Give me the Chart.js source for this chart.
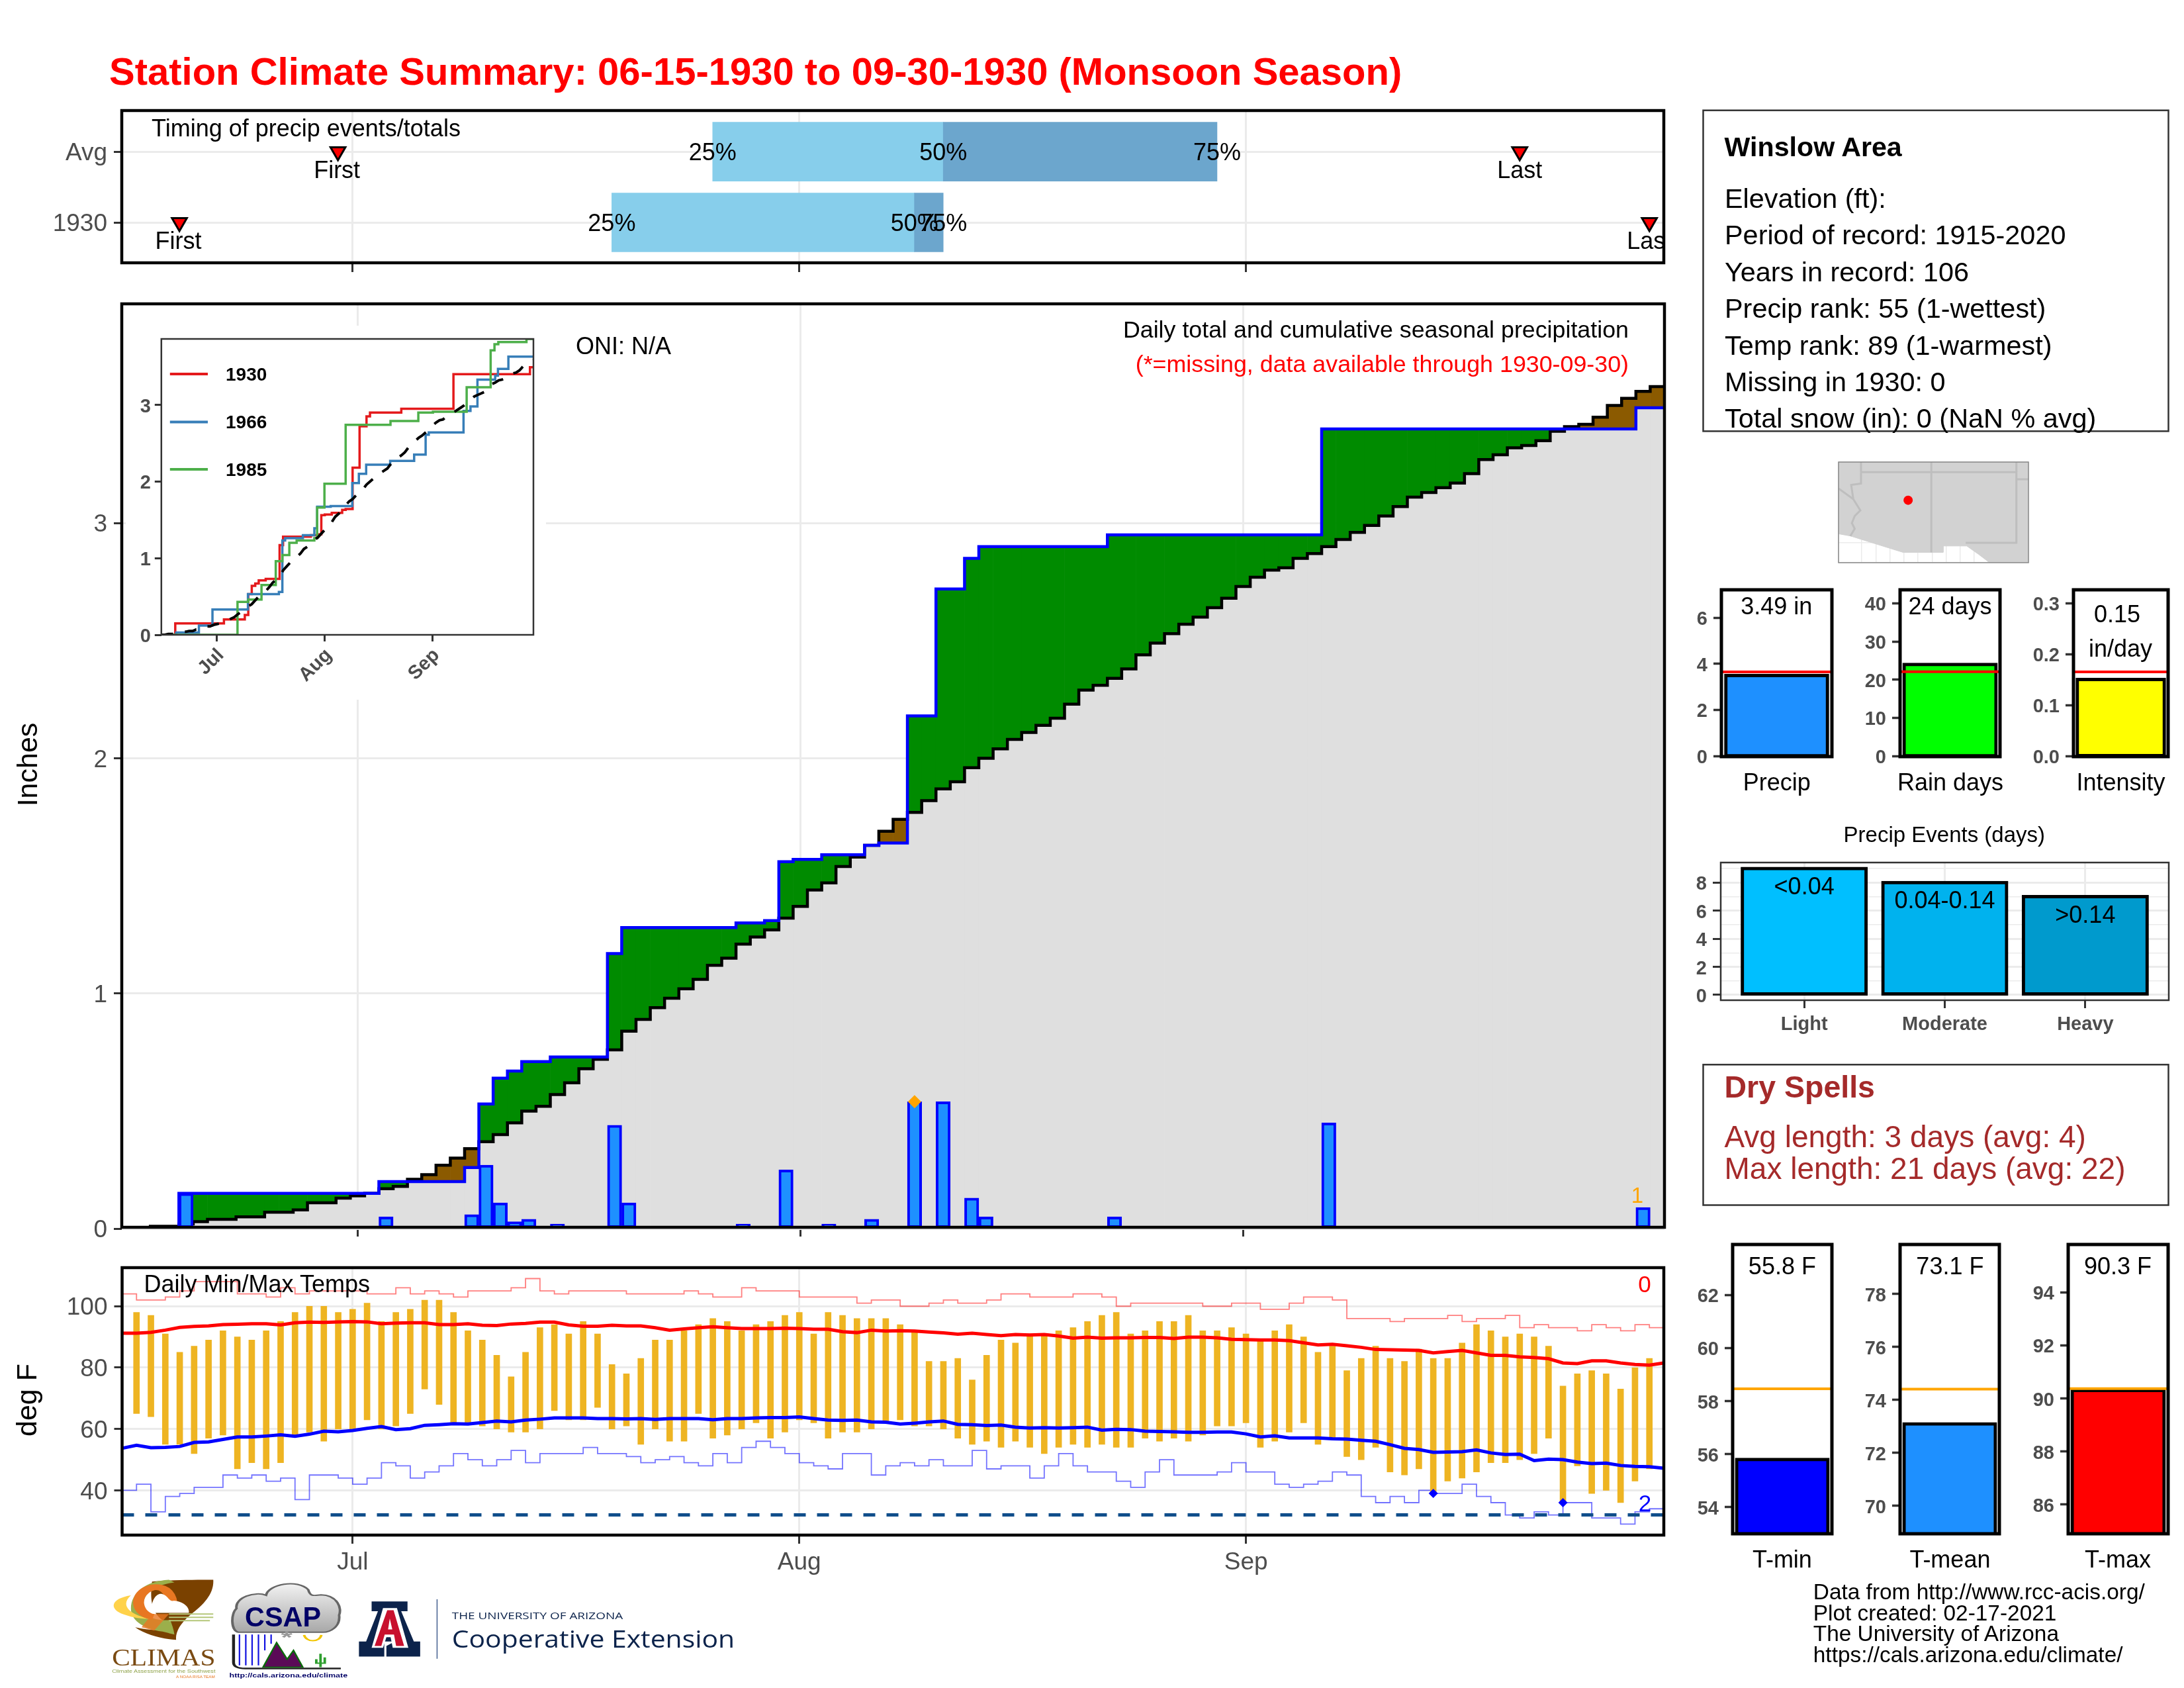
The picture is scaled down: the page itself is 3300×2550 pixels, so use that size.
<!DOCTYPE html>
<html><head><meta charset="utf-8">
<script src="https://cdn.jsdelivr.net/npm/chart.js@4"></script>
<style>html,body{margin:0;padding:0;background:#fff}#page{position:relative;width:3300px;height:2550px;overflow:hidden;background:#fff}canvas{position:absolute;display:block}svg{position:absolute;left:0;top:0;pointer-events:none}</style>
</head><body><div id="page"></div>
<script>
// ---------- DATA ----------
const monthTicks=[16,47,78];
const monthNames=['Jul','Aug','Sep'];
const days=[];for(let d=0;d<108;d++)days.push(d);

const timingCategories=['Avg','1930'];
const q25=[41,34];
const q50=[57,55];
const q75=[76,57];
const firstRain=[15,4];
const lastRain=[97,106];

const rainDays=[4,18,24,25,26,27,28,30,34,35,43,45,46,47,49,52,53,55,57,59,60,69,84,106];
const rainAmounts=[.15,.05,.06,.27,.11,.03,.04,.02,.44,.11,.02,.01,.25,.01,.02,.04,.01,.54,.54,.13,.05,.05,.45,.09];
const rainCum=[.15,.20,.26,.53,.64,.67,.71,.73,1.17,1.28,1.30,1.31,1.56,1.57,1.59,1.63,1.64,2.18,2.72,2.85,2.90,2.95,3.40,3.49];
const avgCum=[0,0,.01,.01,.02,.03,.04,.04,.05,.05,.07,.07,.08,.11,.11,.13,.14,.15,.17,.18,.21,.23,.27,.30,.34,.37,.40,.45,.50,.52,.57,.62,.68,.72,.76,.84,.89,.94,.98,1.02,1.06,1.12,1.15,1.21,1.24,1.27,1.32,1.37,1.44,1.47,1.54,1.58,1.63,1.69,1.74,1.77,1.82,1.87,1.90,1.96,2.00,2.04,2.08,2.11,2.14,2.17,2.23,2.29,2.31,2.34,2.38,2.44,2.49,2.53,2.57,2.60,2.64,2.68,2.73,2.77,2.80,2.81,2.85,2.87,2.90,2.93,2.96,2.99,3.03,3.07,3.11,3.13,3.15,3.17,3.21,3.27,3.29,3.32,3.33,3.35,3.39,3.41,3.42,3.45,3.50,3.53,3.56,3.58];

const days1966=[4.3,10.8,14.7,24.9,33.8,34.8,35.6,40.7,44,44.8,48.7,54.9,56.8,58.9,65.8,72.7,76,76.9,86.9,88.9,90.9,96,96.8,99.8];
const cum1966=[.03,.12,.33,.53,.56,1.23,1.26,1.30,1.39,1.67,1.68,1.98,2.10,2.22,2.27,2.35,2.61,2.64,2.92,2.98,3.33,3.38,3.47,3.63];
const days1985=[21.9,25,28.8,32.9,34.8,36.8,38.9,44,44.8,46.9,53,63.6,65.9,73.9,78.1,87.8,94.7,95.8,96.9,105];
const cum1985=[.43,.46,.65,.96,1.04,1.20,1.23,1.26,1.66,1.97,2.74,2.74,2.79,2.90,2.91,3.23,3.71,3.79,3.82,3.86];

const tMax=[null,98,97,91,85,87,89,92,90,89,92,95,98,100,100,98,99,101,95,98,99,102,102,98,92,89,84,77,85,93,94,91,95,91,81,78,83,89,89,92,94,96,95,92,94,95,97,98,91,98,97,96,96,96,94,92,82,82,83,76,84,89,88,91,91,92,93,95,97,98,91,92,95,95,97,92,92,93,91,89,92,94,90,85,87,79,83,87,83,82,86,83,83,88,94,92,90,91,90,87,74,78,79,78,73,80,83,null];
const tMin=[null,65,64,55,55,52,57,58,47,49,47,49,58,59,56,60,60,63,60,61,65,73,68,62,62,61,60,59,59,60,66,63,63,67,60,61,55,60,56,56,65,57,58,60,62,57,59,63,62,57,59,59,60,62,63,61,61,60,57,55,56,54,56,54,52,54,55,54,55,54,54,57,56,57,56,58,61,61,62,54,56,59,62,55,57,51,50,54,46,45,47,39,43,44,46,49,49,50,52,57,36,48,39,40,36,43,47,null];
const avgMax=[91.2,91.2,91.5,92.2,93.1,93.4,93.6,94.0,94.1,94.3,94.3,93.9,94.6,94.8,94.7,94.9,95.0,94.9,94.3,94.5,94.6,94.6,94.0,94.0,94.3,93.8,93.7,94.2,94.4,94.8,94.8,93.9,93.5,93.5,93.8,93.6,93.6,93.0,92.2,92.6,93.0,93.3,93.0,92.7,92.7,92.7,92.8,92.7,92.5,92.5,91.7,91.4,92.2,91.9,92.0,91.9,91.6,91.3,90.9,91.2,90.8,90.4,90.8,90.6,90.8,90.3,89.6,89.9,89.6,89.7,89.7,89.8,89.8,89.5,89.9,89.9,89.7,89.2,89.1,89.0,89.0,88.8,88.1,87.4,87.6,87.1,86.6,85.9,85.8,85.7,85.6,84.8,85.2,85.6,84.8,84.0,84.0,83.5,83.3,82.9,81.5,81.3,82.2,82.2,81.5,81.0,80.8,81.5];
const avgMin=[53.7,54.7,53.9,54.0,54.3,55.6,55.8,56.6,57.4,57.4,57.7,58.1,57.6,58.3,59.3,59.1,59.5,60.2,60.8,59.8,60.1,61.2,61.4,61.7,61.6,62.1,62.6,62.3,62.9,63.2,63.6,63.6,63.6,63.4,63.4,63.3,63.4,63.1,63.4,63.4,63.4,63.0,63.4,63.4,63.6,63.7,63.7,63.9,63.4,62.9,62.8,62.9,62.3,62.2,61.6,61.9,62.3,62.6,61.5,61.4,61.1,61.3,60.6,60.3,60.4,60.3,60.4,60.6,59.6,59.9,59.8,59.3,59.2,59.1,58.9,58.9,59.0,59.0,58.4,57.4,57.8,57.1,57.1,57.1,56.8,56.7,56.3,56.0,54.9,53.7,53.3,52.4,52.5,52.6,53.2,52.2,51.7,51.8,49.7,50.2,50.0,49.2,48.7,48.9,48.1,47.8,47.7,47.2];
const recHigh=[104,102,102,103,105,108,108,108,104,104,103,106,104,105,105,105,105,104,104,106,104,105,104,103,105,105,105,106,109,105,104,105,105,105,105,104,104,104,104,105,104,103,103,106,105,105,105,103,103,103,103,101,102,102,100,100,101,102,101,101,102,104,104,103,103,103,104,104,103,100,101,101,101,101,101,100,100,101,101,99,99,101,103,103,102,96,96,96,95,96,96,96,97,95,96,96,97,93,94,93,93,92,94,93,92,94,93,93];
const recLow=[40,42,33,38,39,41,41,45,44,45,43,44,37,45,45,44,42,44,49,48,44,46,48,52,50,48,50,53,49,52,52,52,54,52,52,51,49,50,51,49,48,52,49,54,56,54,52,49,48,47,52,52,45,48,49,48,50,48,48,53,47,48,48,44,48,52,48,46,46,43,41,46,50,45,45,45,46,49,46,46,42,41,42,43,46,45,38,36,38,36,40,39,39,42,38,36,32,31,33,32,36,36,31,31,29,33,34,34];
const recLowDays=[91,100];
const recLowVals=[39,36];
const freezeLine=32;

const precipTotal=3.49, precipAvg=3.65;
const rainDayCount=24, rainDayAvg=22.1;
const intensity=0.15, intensityAvg=0.165;
const eventLabels=['Light','Moderate','Heavy'];
const eventBins=['<0.04','0.04-0.14','>0.14'];
const eventCounts=[9,8,7];
const tMinMean=55.8, tMeanMean=73.1, tMaxMean=90.3;
const tMinAvg=58.46, tMeanAvg=74.41, tMaxAvg=90.37;

const regionLon=[-115.65,-102.14,-102.14,-104.9,-105.7,-106.53,-108.21,-108.21,-111.07,-114.81,-115.65];
const regionLat=[37.72,37.72,30.6,30.6,31.2,31.78,31.78,31.33,31.33,32.49,32.64];
const borderLines=[
 {lon:[-109.05,-109.05],lat:[37.72,31.33]},
 {lon:[-114.05,-103,-103,-106.6],lat:[37,37,32,32]},
 {lon:[-114.05,-114.05],lat:[37.72,37]},
 {lon:[-103,-102.14],lat:[36.5,36.5]},
 {lon:[-103,-103],lat:[37.72,37]},
 {lon:[-114.05,-114.05,-114.75,-114.6,-114.1,-114.5,-114.7,-114.5,-114.81],lat:[37,36.2,36.1,35.1,34.3,33.9,33.4,33,32.49]},
 {lon:[-115.65,-114.6],lat:[35.85,35.1]}
];
const stationLon=-110.7, stationLat=35.02;

// ---------- HELPERS ----------
const FONT='"Liberation Sans"';
Chart.defaults.font.family='Liberation Sans';
const GRID='#EBEBEB',TICK='#333333',LABEL='#4D4D4D';
const page=document.getElementById('page');

Chart.register({id:'frame',afterDraw(c,a,o){if(!o||!o.width)return;const A=c.chartArea,x=c.ctx;x.save();x.strokeStyle=o.color||'#000';x.lineWidth=o.width;x.strokeRect(A.left,A.top,A.right-A.left,A.bottom-A.top);x.restore();}});
Chart.register({id:'notes',afterDatasetsDraw(c,a,o){if(!o||!o.items)return;const A=c.chartArea,x=c.ctx;x.save();x.beginPath();x.rect(A.left,A.top,A.right-A.left,A.bottom-A.top);x.clip();
 o.items.forEach(n=>{const sx=c.scales[n.xAxis||'x'],sy=c.scales[n.yAxis||'y'];x.font=`${n.weight||'normal'} ${n.size||36}px ${FONT}`;x.fillStyle=n.color||'#000';x.textAlign=n.align||'center';x.textBaseline='alphabetic';x.fillText(n.text,sx.getPixelForValue(n.x)+(n.dx||0),sy.getPixelForValue(n.y)+(n.dy||0));});x.restore();}});

function makeChart(frame,pad,cfg){
 const cv=document.createElement('canvas');
 const W=Math.round(frame.r-frame.l+pad.left+pad.right),H=Math.round(frame.b-frame.t+pad.top+pad.bottom);
 cv.width=W;cv.height=H;cv.style.width=W+'px';cv.style.height=H+'px';cv.style.left=(frame.l-pad.left)+'px';cv.style.top=(frame.t-pad.top)+'px';
 if(cfg.whiteBg)cv.style.background='#fff';
 page.appendChild(cv);
 const o=cfg.options=cfg.options||{};
 o.responsive=false;o.animation=false;o.devicePixelRatio=1;
 o.layout={autoPadding:false,padding:{top:pad.top,right:pad.right,left:0,bottom:0}};
 const noPad=s=>{s.paddingLeft=s.paddingRight=s.paddingTop=s.paddingBottom=0;};
 o.scales.x.afterFit=s=>{s.height=pad.bottom;noPad(s);};
 o.scales.y.afterFit=s=>{s.width=pad.left;noPad(s);};
 o.plugins=Object.assign({legend:{display:false},tooltip:{enabled:false}},o.plugins||{});
 return new Chart(cv.getContext('2d'),cfg);
}
const tickList=l=>s=>{s.ticks=l.map(v=>({value:v}));};
function stepPts(ds,vs,start,end){const p=[{x:start,y:0}];ds.forEach((d,i)=>p.push({x:d,y:vs[i]}));p.push({x:end,y:vs[vs.length-1]});return p;}
function fullDaily(ds,vs){return days.map(d=>{const k=ds.indexOf(d);return k>=0?vs[k]:null;});}
function holdDaily(ds,vs){let cur=0;return days.map(d=>{const k=ds.indexOf(d);if(k>=0)cur=vs[k];return cur;});}
const baseGrid={color:GRID,lineWidth:3,tickColor:TICK,tickWidth:3,tickLength:12};
const tickFont={size:37,family:'Liberation Sans'};

// ---------- TIMING PANEL ----------
const timingNotes=[];
timingCategories.forEach((c,i)=>{
 timingNotes.push({x:q25[i],y:i+1,dy:13,text:'25%'},{x:q50[i],y:i+1,dy:13,text:'50%'},{x:q75[i],y:i+1,dy:13,text:'75%'},
  {x:firstRain[i],y:i+1,dy:40,dx:-1.5,text:'First'},{x:lastRain[i],y:i+1,dy:40,text:'Last'});
});
makeChart({l:184,t:167,r:2514,b:397},{left:184,top:6,right:6,bottom:20},{
 type:'bar',
 data:{datasets:[
  {type:'scatter',order:1,xAxisID:'x',yAxisID:'y',data:timingCategories.flatMap((c,i)=>[{x:firstRain[i],y:i+1},{x:lastRain[i],y:i+1}]),pointStyle:'triangle',rotation:180,pointRadius:13,backgroundColor:'#FF0000',borderColor:'#000',borderWidth:3},
  {indexAxis:'y',order:2,grouped:false,barThickness:89,backgroundColor:'#6CA6CD',data:timingCategories.map((c,i)=>({x:[q50[i],q75[i]],y:i+1}))},
  {indexAxis:'y',order:3,grouped:false,barThickness:89,backgroundColor:'#87CEEB',data:timingCategories.map((c,i)=>({x:[q25[i],q50[i]],y:i+1}))}
 ]},
 options:{plugins:{frame:{width:4.5},notes:{items:timingNotes}},scales:{
  x:{type:'linear',offset:false,min:0,max:107,afterBuildTicks:tickList(monthTicks),grid:Object.assign({},baseGrid,{offset:false,tickLength:14}),border:{display:false},ticks:{callback:()=>'',maxRotation:0}},
  y:{type:'linear',offset:false,reverse:true,min:.42,max:2.57,afterBuildTicks:tickList([1,2]),grid:Object.assign({},baseGrid,{offset:false}),border:{display:false},ticks:{padding:10,labelOffset:3,font:tickFont,color:LABEL,callback:v=>timingCategories[v-1]}}
 }}
});

// ---------- MAIN PRECIP PANEL ----------
const cumDaily=holdDaily(rainDays,rainCum);
const dailyRain=fullDaily(rainDays,rainAmounts);
makeChart({l:184,t:459,r:2515,b:1853.5},{left:184,top:6,right:6,bottom:20},{
 type:'bar',
 data:{labels:days,datasets:[
  {type:'scatter',order:0,xAxisID:'xl',data:[{x:55,y:.54}],pointStyle:'rectRot',pointRadius:10,backgroundColor:'#FFA500',borderWidth:0},
  {order:1,grouped:false,barPercentage:1,categoryPercentage:1,data:dailyRain,backgroundColor:'#1E90FF',borderColor:'#0000FF',borderWidth:4,borderSkipped:false},
  {type:'line',order:2,xAxisID:'xl',data:stepPts(rainDays.map(d=>d-.5),rainCum,-.5,107.5),stepped:'before',borderColor:'#0000FF',borderWidth:4.5,pointRadius:0,fill:false},
  {type:'line',order:3,xAxisID:'xl',data:stepPts(days.map(d=>d-.5),avgCum,-.5,107.5),stepped:'before',borderColor:'#000',borderWidth:4.5,pointRadius:0,fill:false},
  {order:4,grouped:false,barPercentage:1,categoryPercentage:1,data:days.map(d=>[Math.min(cumDaily[d],avgCum[d]),Math.max(cumDaily[d],avgCum[d])]),backgroundColor:days.map(d=>cumDaily[d]>=avgCum[d]?'#008B00':'#8B5A00')},
  {order:5,grouped:false,barPercentage:1,categoryPercentage:1,data:days.map(d=>[0,Math.min(cumDaily[d],avgCum[d])]),backgroundColor:'#DFDFDF'}
 ]},
 options:{plugins:{frame:{width:4.5}},scales:{
  x:{type:'category',offset:true,afterBuildTicks:tickList(monthTicks),grid:Object.assign({},baseGrid,{offset:false,tickLength:14}),border:{display:false},ticks:{autoSkip:false,maxRotation:0,callback:()=>''}},
  xl:{type:'linear',offset:false,display:false,min:-.5,max:107.5},
  y:{type:'linear',min:.006,max:3.932,afterBuildTicks:tickList([0,1,2,3]),grid:baseGrid,border:{display:false},ticks:{padding:10,labelOffset:3,font:tickFont,color:LABEL}}
 }}
});

// ---------- INSET ----------
makeChart({l:243.8,t:512,r:806,b:959},{left:53.8,top:20,right:19,bottom:98},{
 whiteBg:true,type:'line',
 data:{datasets:[
  {data:days.map(d=>({x:d,y:avgCum[d]})),borderColor:'#000',borderWidth:4,borderDash:[18,18],pointRadius:0,order:1},
  {data:stepPts(rainDays,rainCum,0,107),stepped:'before',borderColor:'#E41A1C',borderWidth:3.5,pointRadius:0,order:4},
  {data:stepPts(days1966,cum1966,0,107),stepped:'before',borderColor:'#377EB8',borderWidth:3.5,pointRadius:0,order:3},
  {data:stepPts(days1985,cum1985,0,107),stepped:'before',borderColor:'#4DAF4A',borderWidth:3.5,pointRadius:0,order:2}
 ]},
 options:{plugins:{frame:{width:2.5,color:'#333'}},scales:{
  x:{type:'linear',min:0,max:107,afterBuildTicks:tickList(monthTicks),grid:{drawOnChartArea:false,tickColor:TICK,tickWidth:3,tickLength:10},border:{display:false},ticks:{minRotation:45,maxRotation:45,padding:4,labelOffset:6,font:{size:29,weight:'bold'},color:LABEL,callback:v=>monthNames[monthTicks.indexOf(v)]}},
  y:{type:'linear',min:0,max:3.86,afterBuildTicks:tickList([0,1,2,3]),grid:{drawOnChartArea:false,tickColor:TICK,tickWidth:3,tickLength:10},border:{display:false},ticks:{padding:6,labelOffset:3,font:{size:29,weight:'bold'},color:LABEL}}
 }}
});

// ---------- TEMPERATURE PANEL ----------
makeChart({l:184.5,t:1915,r:2514,b:2319.3},{left:184.5,top:6,right:6,bottom:70},{
 type:'bar',
 data:{labels:days,datasets:[
  {type:'line',order:0,showLine:false,data:recLowDays.map((d,i)=>({x:d,y:recLowVals[i]})),pointStyle:'rectRot',pointRadius:7,backgroundColor:'#0000FF',borderWidth:0},
  {type:'line',order:1,data:avgMax,borderColor:'#FF0000',borderWidth:5,pointRadius:0,tension:0},
  {type:'line',order:2,data:avgMin,borderColor:'#0000FF',borderWidth:5,pointRadius:0,tension:0},
  {order:3,grouped:false,barThickness:9,data:days.map(d=>tMax[d]===null?null:[tMin[d],tMax[d]]),backgroundColor:'#EEB422'},
  {type:'line',order:4,data:days.map(()=>freezeLine),borderColor:'#104E8B',borderWidth:5,borderDash:[18,17],pointRadius:0},
  {type:'line',order:5,data:recHigh,stepped:'before',borderColor:'rgba(255,0,0,.5)',borderWidth:1.8,pointRadius:0},
  {type:'line',order:6,data:recLow,stepped:'before',borderColor:'rgba(0,0,255,.55)',borderWidth:1.8,pointRadius:0}
 ]},
 options:{plugins:{frame:{width:4.5}},scales:{
  x:{type:'category',offset:false,afterBuildTicks:tickList(monthTicks),grid:Object.assign({},baseGrid,{offset:false,tickLength:13}),border:{display:false},ticks:{autoSkip:false,maxRotation:0,padding:6.5,font:tickFont,color:LABEL,callback:v=>monthNames[monthTicks.indexOf(v)]}},
  y:{type:'linear',min:25.43,max:112.56,afterBuildTicks:tickList([40,60,80,100]),grid:baseGrid,border:{display:false},ticks:{padding:10,labelOffset:3,font:tickFont,color:LABEL}}
 }}
});

// ---------- SMALL BAR PANELS ----------
function smallBar(frame,val,ref,refColor,color,ymin,ymax,ticks,fmt){
 return makeChart(frame,{left:110,top:5,right:5,bottom:28},{
  type:'bar',
  data:{labels:['v'],datasets:[
   {type:'line',order:1,xAxisID:'xl',data:[{x:0,y:ref},{x:1,y:ref}],borderColor:refColor,borderWidth:4,pointRadius:0},
   {order:2,grouped:false,barPercentage:.92,categoryPercentage:1,inflateAmount:2.5,data:[val],backgroundColor:color,borderColor:'#000',borderWidth:5,borderSkipped:false}
  ]},
  options:{plugins:{frame:{width:5}},scales:{
   x:{type:'category',offset:true,grid:{display:false},border:{display:false},ticks:{display:false}},
   xl:{type:'linear',offset:false,display:false,min:0,max:1},
   y:{type:'linear',min:ymin,max:ymax,afterBuildTicks:tickList(ticks),grid:{drawOnChartArea:false,tickColor:TICK,tickWidth:3.5,tickLength:12},border:{display:false},ticks:{padding:9,labelOffset:3,font:{size:29,weight:'bold'},color:LABEL,callback:fmt}}
  }}
 });
}
smallBar({l:2600.5,t:890.6,r:2767.9,b:1143},precipTotal,precipAvg,'#FF0000','#1E90FF',-.025,7.21,[0,2,4,6],v=>v);
smallBar({l:2871,t:890.6,r:3022,b:1143},rainDayCount,rainDayAvg,'#FF0000','#00FF00',-.15,43.55,[0,10,20,30,40],v=>v);
smallBar({l:3133,t:890.6,r:3275.5,b:1143},intensity,intensityAvg,'#FF0000','#FFFF00',-.0012,.326,[0,.1,.2,.3],v=>v.toFixed(1));
smallBar({l:2617.9,t:1880.4,r:2767.9,b:2317.4},tMinMean,tMinAvg,'#FFA500','#0000FF',53,63.9,[54,56,58,60,62],v=>v);
smallBar({l:2871.4,t:1880.4,r:3021.4,b:2317.4},tMeanMean,tMeanAvg,'#FFA500','#1E90FF',68.95,79.87,[70,72,74,76,78],v=>v);
smallBar({l:3125,t:1880.4,r:3275.5,b:2317.4},tMaxMean,tMaxAvg,'#FFA500','#FF0000',84.9,95.8,[86,88,90,92,94],v=>v);

// ---------- EVENTS ----------
makeChart({l:2600,t:1302.8,r:3276.5,b:1510.9},{left:110,top:4,right:4,bottom:70},{
 type:'bar',
 data:{datasets:[{data:eventCounts.map((v,i)=>({x:i+1,y:v})),barThickness:187,inflateAmount:2.5,backgroundColor:['#00BFFF','#00B2EE','#009ACD'],borderColor:'#000',borderWidth:5,borderSkipped:false}]},
 options:{plugins:{frame:{width:2.5,color:'#333'},notes:{items:eventBins.map((t,i)=>({x:i+1,y:eventCounts[i],dy:39,text:t,size:36}))}},scales:{
  x:{type:'linear',offset:false,min:.406,max:3.594,afterBuildTicks:tickList([1,2,3]),grid:{offset:false,color:GRID,lineWidth:3,tickColor:TICK,tickWidth:3,tickLength:12},border:{display:false},ticks:{padding:8,font:{size:29,weight:'bold'},color:LABEL,callback:v=>eventLabels[v-1]}},
  y:{type:'linear',min:-.38,max:9.43,afterBuildTicks:tickList([0,1,2,3,4,5,6,7,8,9]),grid:{color:GRID,lineWidth:c=>c.tick&&c.tick.value%2?1.5:3,tickColor:c=>c.tick&&c.tick.value%2?'rgba(0,0,0,0)':TICK,tickWidth:3,tickLength:12},border:{display:false},ticks:{padding:9,labelOffset:3,autoSkip:false,font:{size:29,weight:'bold'},color:LABEL,callback:v=>v%2?'':v}}
 }}
});

// ---------- MAP ----------
const mapDatasets=[{data:[{x:stationLon,y:stationLat}],type:'scatter',order:0,pointRadius:7,backgroundColor:'#FF0000',borderWidth:0}];
borderLines.forEach(b=>mapDatasets.push({type:'line',order:1,data:b.lon.map((x,i)=>({x,y:b.lat[i]})),borderColor:'#BEBEBE',borderWidth:3,pointRadius:0,fill:false}));
mapDatasets.push({type:'line',order:2,data:regionLon.map((x,i)=>({x,y:regionLat[i]})),borderColor:'#D2D2D2',borderWidth:1,backgroundColor:'#D2D2D2',fill:'shape',pointRadius:0});
makeChart({l:2778,t:697.7,r:3065.3,b:850},{left:2,top:2,right:2,bottom:2},{
 type:'scatter',data:{datasets:mapDatasets},
 options:{plugins:{frame:{width:1.5,color:'#888'}},scales:{
  x:{type:'linear',min:-115.65,max:-102.14,ticks:{display:false,stepSize:1},grid:{color:'#EBEBEB',lineWidth:1.5,drawTicks:false},border:{display:false}},
  y:{type:'linear',min:30.6,max:37.72,ticks:{display:false,stepSize:1},grid:{color:'#EBEBEB',lineWidth:1.5,drawTicks:false},border:{display:false}}
 }}
});

// ---------- TEXT / SVG OVERLAY ----------
const NS='http://www.w3.org/2000/svg';
const svg=document.createElementNS(NS,'svg');svg.setAttribute('width',3300);svg.setAttribute('height',2550);page.appendChild(svg);
function el(tag,a,parent,txt){const e=document.createElementNS(NS,tag);for(const k in a)e.setAttribute(k,a[k]);if(txt!==undefined)e.textContent=txt;(parent||svg).appendChild(e);return e;}
function T(x,y,t,o={}){const a={x,y,'font-family':o.family||FONT,'font-size':o.size||36,fill:o.fill||'#000','font-weight':o.weight||'normal','text-anchor':o.anchor||'start'};if(o.rotate)a.transform=`rotate(${o.rotate} ${x} ${y})`;if(o.len){a.textLength=o.len;a.lengthAdjust='spacingAndGlyphs';}return el('text',a,o.parent,t);}

T(165,128,'Station Climate Summary: 06-15-1930 to 09-30-1930 (Monsoon Season)',{size:58,weight:'bold',fill:'#FF0000'});
T(229,206,'Timing of precip events/totals',{size:36});
T(870,535,'ONI: N/A',{size:36});
T(2461,510,'Daily total and cumulative seasonal precipitation',{size:35.8,anchor:'end'});
T(2461,562,'(*=missing, data available through 1930-09-30)',{size:35.8,anchor:'end',fill:'#FF0000'});
T(56,1155,'Inches',{size:43,anchor:'middle',rotate:-90});
T(55,2115,'deg F',{size:43,anchor:'middle',rotate:-90});
T(217.5,1952,'Daily Min/Max Temps',{size:36});
T(2485,1952,'0',{size:35,fill:'#FF0000',anchor:'middle'});
T(2485.5,2283,'2',{size:35,fill:'#0000FF',anchor:'middle'});
T(2474,1817,'1',{size:33,fill:'#FFA500',anchor:'middle'});

// inset legend
[['1930','#E41A1C',565],['1966','#377EB8',637.4],['1985','#4DAF4A',709]].forEach(r=>{
 el('line',{x1:256.8,x2:314,y1:r[2],y2:r[2],stroke:r[1],'stroke-width':4});
 T(341,r[2]+10,r[0],{size:28,weight:'bold'});
});

// info box
el('rect',{x:2573.5,y:166.7,width:703,height:484.7,fill:'none',stroke:'#333','stroke-width':2.5});
T(2605.6,236,'Winslow Area',{size:41.2,weight:'bold'});
['Elevation (ft):','Period of record: 1915-2020','Years in record: 106','Precip rank: 55 (1-wettest)','Temp rank: 89 (1-warmest)','Missing in 1930: 0','Total snow (in): 0 (NaN % avg)'].forEach((t,i)=>T(2606,314+i*55.4,t,{size:41.4}));

// small panel captions
T(2684.2,928,precipTotal.toFixed(2)+' in',{anchor:'middle'});
T(2946.5,928,rainDayCount+' days',{anchor:'middle'});
T(3199,940,intensity.toFixed(2),{anchor:'middle'});
T(3204,992,'in/day',{anchor:'middle'});
T(2684.7,1194,'Precip',{anchor:'middle'});
T(2947,1194,'Rain days',{anchor:'middle'});
T(3204.6,1194,'Intensity',{anchor:'middle'});
T(2937.8,1272,'Precip Events (days)',{size:33,anchor:'middle'});

// dry spells
el('rect',{x:2573.5,y:1608.3,width:703,height:212.2,fill:'none',stroke:'#333','stroke-width':2.5});
T(2605.5,1658,'Dry Spells',{size:46.5,weight:'bold',fill:'#A52A2A'});
T(2605.5,1733,'Avg length: 3 days (avg: 4)',{size:46,fill:'#A52A2A'});
T(2605.5,1781,'Max length: 21 days (avg: 22)',{size:46,fill:'#A52A2A'});

// temp captions
T(2692.9,1925,tMinMean+' F',{anchor:'middle'});
T(2946.4,1925,tMeanMean+' F',{anchor:'middle'});
T(3200,1925,tMaxMean+' F',{anchor:'middle'});
T(2692.9,2367.8,'T-min',{anchor:'middle'});
T(2946.4,2367.8,'T-mean',{anchor:'middle'});
T(3200,2367.8,'T-max',{anchor:'middle'});

// credits
['Data from http://www.rcc-acis.org/','Plot created: 02-17-2021','The University of Arizona','https://cals.arizona.edu/climate/'].forEach((t,i)=>T(2739.8,2416+i*31.6,t,{size:33.4}));

// logos (drawn in a local coordinate frame)
const logo=el('g',{transform:'translate(150,2330) scale(.638,.333)'});
const defs=el('defs',{});const grad=el('linearGradient',{id:'cl',x1:0,y1:0,x2:0,y2:1},defs);el('stop',{offset:'0','stop-color':'#F2F2F2'},grad);el('stop',{offset:'1','stop-color':'#A8A8A8'},grad);
el('path',{d:'M125,178 C170,170 230,170 270,170 C272,230 250,280 215,330 C190,370 180,410 182,442 C150,438 110,420 85,385 C130,405 172,400 168,370 C120,340 120,250 125,178Z',fill:'#7A4100'},logo);
el('path',{d:'M165,170 C110,175 75,230 75,300 C75,350 100,390 150,405 L178,418 C176,392 172,372 168,352 C120,360 100,320 105,270 C110,220 140,190 178,182Z',fill:'#9BAF4B'},logo);
el('path',{d:'M75,240 C25,255 22,305 60,328 C80,342 100,347 122,347 C80,332 45,292 75,240Z',fill:'#FFD24A'},logo);
el('path',{d:'M172,272 C168,222 150,195 125,205 C95,220 85,270 100,310 C108,328 118,336 128,338',fill:'none',stroke:'#E87722','stroke-width':26},logo);
el('path',{d:'M125,320 C120,270 135,225 150,235 C165,245 165,270 175,265 C195,265 215,290 212,320Z',fill:'#fff'},logo);
el('path',{d:'M125,325 L165,325 L130,400 L100,385Z',fill:'#E87722',opacity:.8},logo);
el('path',{d:'M165,325 L270,325 M165,340 L270,340 M165,355 L262,355',stroke:'#B5C77A','stroke-width':6,fill:'none'},logo);
T(30,560,'CLIMAS',{parent:logo,family:'"Liberation Serif"',size:110,fill:'#7A4A12',len:245});
T(30,592,'Climate Assessment for the Southwest',{parent:logo,size:24,fill:'#8FA34A',len:245});
T(182,615,'A NOAA RISA TEAM',{parent:logo,size:18,fill:'#E87722',len:92});

el('path',{d:'M330,408 C310,400 312,320 325,300 C320,250 370,220 395,240 C400,190 470,165 495,215 C500,250 510,240 525,238 C565,240 575,300 568,330 C572,385 545,408 530,408Z',fill:'url(#cl)',stroke:'#666','stroke-width':6},logo);
T(345,380,'CSAP',{parent:logo,size:130,weight:'bold',fill:'#000066',len:180});
[332,347,362,377,392,407].forEach((x,i)=>el('line',{x1:x,x2:x,y1:418,y2:[558,558,558,558,490,460][i],stroke:'#1414E0','stroke-width':3.5},logo));
el('path',{d:'M318,418 L318,545 C318,565 330,572 345,572 L572,572',fill:'none',stroke:'#222','stroke-width':7},logo);
el('path',{d:'M388,566 L420,455 L445,530 L460,490 L482,566Z',fill:'#5B0A57',stroke:'#0A6B0A','stroke-width':4},logo);
T(444,455,'*',{parent:logo,anchor:'middle',size:70,weight:'bold',fill:'#999'});
el('path',{d:'M485,420 C490,455 522,455 526,420',fill:'none',stroke:'#F2C500','stroke-width':6},logo);
el('path',{d:'M524,566 L524,505 M514,530 L514,548 L534,548 L534,522',fill:'none',stroke:'#2E9E2E','stroke-width':6},logo);
T(308,612,'http://cals.arizona.edu/climate',{parent:logo,weight:'bold',size:26,fill:'#000066',len:280});

el('path',{d:'M645,268 L730,268 L730,312 L715,312 L745,450 L760,450 L760,518 L680,518 L680,470 L700,450 L675,450 L675,518 L615,518 L615,450 L632,450 L660,312 L645,312Z',fill:'#0C234B'},logo);
el('path',{d:'M672,298 L705,298 L732,478 L695,478 L690,430 L680,430 L672,478 L645,478Z',fill:'#fff'},logo);
el('path',{d:'M682,308 L697,308 L722,470 L703,470 L698,418 L676,418 L668,470 L652,470Z',fill:'#C8102E'},logo);
el('path',{d:'M684,395 L694,395 L688,345Z',fill:'#fff'},logo);
el('line',{x1:800,x2:800,y1:258,y2:528,stroke:'#2A4A7F','stroke-width':2},logo);
T(835,348,'THE UNIVERSITY OF ARIZONA',{parent:logo,family:'"Open Sans"',size:46,fill:'#0C234B',len:405});
T(835,478,'Cooperative Extension',{parent:logo,family:'"Open Sans"',size:112,fill:'#0C234B',len:670});
</script>
</body></html>
